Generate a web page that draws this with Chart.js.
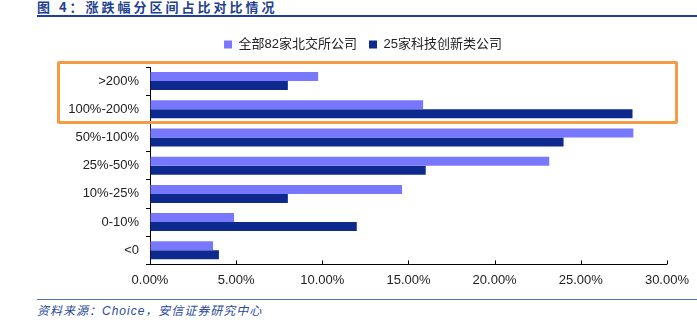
<!DOCTYPE html>
<html lang="zh">
<head>
    <meta charset="UTF-8">
    <title>涨跌幅分区间占比对比情况</title>
    <style>
        body{
            margin: 0;
            width: 697px;
            height: 324px;
            background: #ffffff;
            position: relative;
            overflow: hidden;
            font-family: "Liberation Sans", Arial, "Noto Sans CJK SC", sans-serif;
        }
        .title{
            position: absolute;
            left: 37px;
            top: 0px;
            font-size: 13px;
            font-weight: bold;
            letter-spacing: 3px;
            color: #1f3f8f;
            font-family: "Noto Sans CJK SC", sans-serif;
            line-height: 14px;
        }
        .title-line{
            position: absolute;
            left: 37px;
            right: 0;
            top: 15px;
            height: 2px;
            background: #1b3fa8;
        }
        .foot-line{
            position: absolute;
            left: 37px;
            right: 0;
            top: 299px;
            height: 1px;
            background: #4f72b8;
        }
        .foot{
            position: absolute;
            left: 37px;
            top: 301px;
            font-size: 12px;
            font-style: italic;
            color: #2a4a9a;
            letter-spacing: 1px;
        }
        #box{
            position: absolute;
            left: 57px;
            top: 61px;
            width: 615px;
            height: 57px;
            border: 3px solid #f79a46;
            border-radius: 2px;
            pointer-events: none;
        }
        #chart-wrap{
            position: absolute;
            left: 57px;
            top: 26px;
            width: 640px;
            height: 270px;
        }
    </style>
</head>
<body>
    <div class="title">图 4：涨跌幅分区间占比对比情况</div>
    <div class="title-line"></div>

    <div id="chart-wrap">
        <canvas id="grafik-bar"></canvas>
    </div>
    <div id="box"></div>

    <div class="foot-line"></div>
    <div class="foot">资料来源：Choice，安信证券研究中心</div>

    <script src="https://cdn.jsdelivr.net/npm/chart.js"></script>
    <script>
        // kategori rentang kenaikan/penurunan
        const categories = [">200%", "100%-200%", "50%-100%", "25%-50%", "10%-25%", "0-10%", "<0"]
        const seriesNames = ["全部82家北交所公司", "25家科技创新类公司"]
        // persen
        const allBse = [9.76, 15.85, 28.05, 23.17, 14.63, 4.88, 3.66]
        const techCo = [8, 28, 24, 16, 8, 12, 4]
        const xTicks = [0, 5, 10, 15, 20, 25, 30]

        // tick kecil di sumbu x mengarah ke dalam
        const innerTicks = {
            id: 'innerTicks',
            afterDraw(chart){
                const ctx = chart.ctx
                const x = chart.scales.x
                const bottom = chart.chartArea.bottom
                ctx.save()
                ctx.strokeStyle = '#000'
                ctx.lineWidth = 1
                xTicks.forEach(v => {
                    const px = Math.round(x.getPixelForValue(v)) + 0.5
                    ctx.beginPath()
                    ctx.moveTo(px, bottom)
                    ctx.lineTo(px, bottom - 4)
                    ctx.stroke()
                })
                ctx.restore()
            }
        }

        // jarak tambahan di bawah legend
        const legendGap = {
            id: 'legendGap',
            beforeInit(chart){
                const origFit = chart.legend.fit
                chart.legend.fit = function(){
                    origFit.bind(chart.legend)()
                    this.height += 6
                }
            }
        }

        const ctxBar = document.getElementById('grafik-bar')

        new Chart(ctxBar, {
            type: 'bar',
            data: {
                labels: categories,
                datasets: [{
                    label: seriesNames[0],
                    data: allBse,
                    backgroundColor: '#7878ff',
                    borderWidth: 0
                }, {
                    label: seriesNames[1],
                    data: techCo,
                    backgroundColor: '#0e2a8e',
                    borderWidth: 0
                }]
            },
            options: {
                indexAxis: 'y',
                responsive: true,
                maintainAspectRatio: false,
                animation: false,
                datasets: {
                    bar: {
                        categoryPercentage: 0.64,
                        barPercentage: 1.0
                    }
                },
                layout: {
                    padding: { left: 0, right: 28, top: 0, bottom: 0 }
                },
                plugins: {
                    legend: {
                        position: 'top',
                        labels: {
                            boxWidth: 8,
                            boxHeight: 8,
                            padding: 12,
                            color: '#222',
                            font: { size: 13, family: '"Liberation Sans", Arial, "Noto Sans CJK SC", sans-serif' }
                        }
                    },
                    tooltip: { enabled: false }
                },
                scales: {
                    x: {
                        min: 0,
                        max: 30,
                        afterBuildTicks: (scale) => {
                            scale.ticks = xTicks.map(v => ({ value: v }))
                        },
                        ticks: {
                            color: '#222',
                            padding: 8,
                            font: { size: 13, family: '"Liberation Sans", Arial, sans-serif' },
                            callback: (v) => Number(v).toFixed(2) + '%'
                        },
                        grid: {
                            display: true,
                            drawOnChartArea: false,
                            drawTicks: false
                        },
                        border: { color: '#000', width: 1 }
                    },
                    y: {
                        afterFit: (scale) => { scale.width = 93 },
                        ticks: {
                            color: '#222',
                            padding: 7,
                            font: { size: 13, family: '"Liberation Sans", Arial, sans-serif' }
                        },
                        grid: {
                            display: true,
                            drawOnChartArea: false,
                            drawTicks: true,
                            tickLength: 4,
                            color: '#000'
                        },
                        border: { color: '#000', width: 1 }
                    }
                }
            },
            plugins: [innerTicks, legendGap]
        })
    </script>
</body>
</html>
